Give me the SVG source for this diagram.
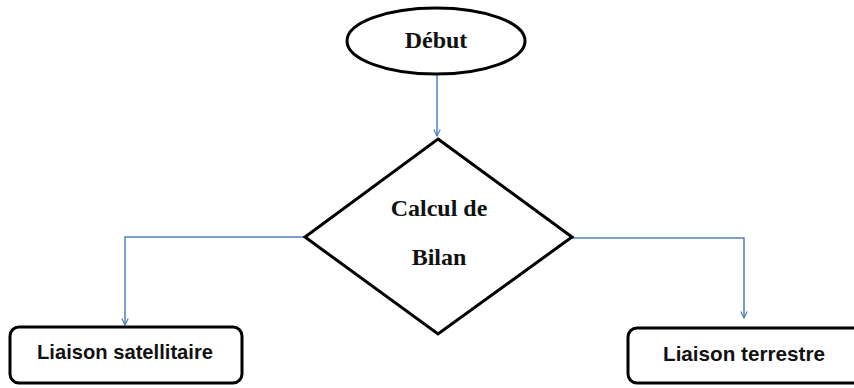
<svg xmlns="http://www.w3.org/2000/svg" width="854" height="388" viewBox="0 0 854 388">
<style>
.shape{fill:#fff;stroke:#000;stroke-width:3}
.serif{font-family:"Liberation Serif","Times New Roman",serif;font-weight:bold;font-size:24px;fill:#111;text-anchor:middle}
.sans{font-family:"Liberation Sans",Arial,sans-serif;font-weight:bold;font-size:21px;fill:#111}
.conn{fill:none;stroke:#4f81bd;stroke-width:1.5}
</style>
<defs>
<marker id="arr" viewBox="0 0 10 10" refX="9" refY="5" markerWidth="8" markerHeight="8" orient="auto" markerUnits="userSpaceOnUse">
<path d="M1,1 L9,5 L1,9" fill="none" stroke="#4f81bd" stroke-width="1.5"/>
</marker>
</defs>
<rect width="854" height="388" fill="#fff"/>
<g id="connectors">
<path class="conn" d="M437,75 V136" marker-end="url(#arr)"/>
<path class="conn" d="M305,237 H125 V325" marker-end="url(#arr)"/>
<path class="conn" d="M572,238 H744 V318" marker-end="url(#arr)"/>
</g>
<g id="debut">
<ellipse class="shape" cx="436" cy="41" rx="89" ry="33"/>
<text class="serif" x="436" y="48">Début</text>
</g>
<g id="calcul">
<polygon class="shape" points="438,139 572,237 438,334 305,237"/>
<text class="serif" x="439" y="216">Calcul de</text>
<text class="serif" x="439" y="265">Bilan</text>
</g>
<g id="satellitaire">
<rect class="shape" x="10" y="327" width="232" height="56" rx="9"/>
<text class="sans" x="37" y="359" textLength="176" lengthAdjust="spacingAndGlyphs">Liaison satellitaire</text>
</g>
<g id="terrestre">
<rect class="shape" x="628" y="328" width="240" height="55" rx="9"/>
<text class="sans" x="663" y="361" textLength="162" lengthAdjust="spacingAndGlyphs">Liaison terrestre</text>
</g>
</svg>
